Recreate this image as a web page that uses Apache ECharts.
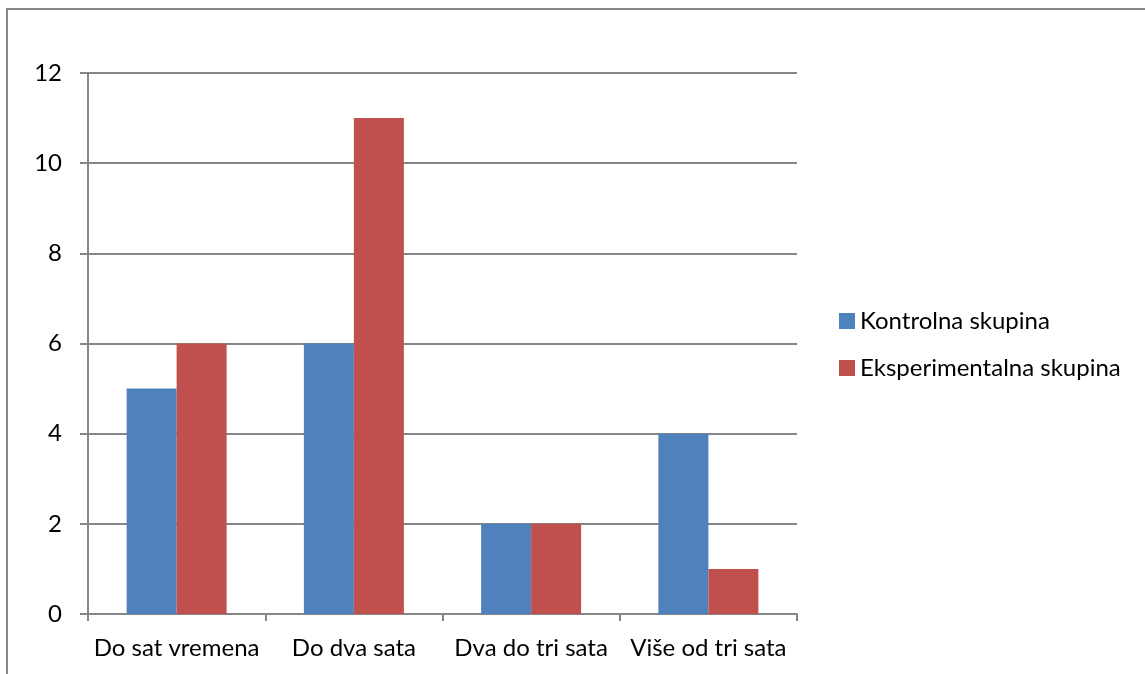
<!DOCTYPE html>
<html>
<head>
<meta charset="utf-8">
<script src="https://cdn.jsdelivr.net/npm/echarts@6/dist/echarts.min.js"></script>
<style>
  html, body { margin: 0; padding: 0; background: #fff; overflow: hidden; }
  #frame {
    position: absolute; left: 6px; top: 8px; width: 1200px; height: 700px;
    border-left: 2px solid #868686; border-top: 2px solid #868686;
  }
  #chart { position: absolute; left: 0; top: 0; width: 1145px; height: 674px; }
</style>
</head>
<body>
<div id="frame"></div>
<div id="chart"></div>
<script>
const categories = ['Do sat vremena', 'Do dva sata', 'Dva do tri sata', 'Više od tri sata']
const kontrolna = [5, 6, 2, 4]
const eksperimentalna = [6, 11, 2, 1]
const yTicks = { min: 0, max: 12, interval: 2 }

const chart = echarts.init(document.getElementById('chart'))
const font = 'Lato, Open Sans, sans-serif'
const gray = '#868686'

chart.setOption({
  animation: false,
  textStyle: { fontFamily: font },
  grid: { left: 88, right: 348, top: 73, bottom: 60 },
  legend: {
    orient: 'vertical',
    left: 839,
    top: 309,
    padding: 0,
    itemWidth: 16,
    itemHeight: 16,
    itemGap: 23,
    icon: 'rect',
    textStyle: { fontSize: 24, color: '#000', fontFamily: font, lineHeight: 24 },
    data: ['Kontrolna skupina', 'Eksperimentalna skupina']
  },
  xAxis: {
    type: 'category',
    data: categories,
    axisLine: { lineStyle: { color: gray, width: 2 } },
    axisTick: { show: true, interval: 0, length: 7, lineStyle: { color: gray, width: 2 } },
    axisLabel: { interval: 0, fontSize: 24, color: '#000', margin: 22, fontFamily: font }
  },
  yAxis: {
    type: 'value',
    min: yTicks.min,
    max: yTicks.max,
    interval: yTicks.interval,
    axisLine: { show: true, lineStyle: { color: gray, width: 2 } },
    axisTick: { show: true, length: 8, lineStyle: { color: gray, width: 2 } },
    axisLabel: { fontSize: 24, color: '#000', margin: 26, fontFamily: font },
    splitLine: { lineStyle: { color: gray, width: 2 } }
  },
  series: [
    {
      name: 'Kontrolna skupina',
      type: 'bar',
      data: kontrolna,
      barWidth: 50,
      barGap: '0%',
      itemStyle: { color: '#4F81BD' }
    },
    {
      name: 'Eksperimentalna skupina',
      type: 'bar',
      data: eksperimentalna,
      barWidth: 50,
      barGap: '0%',
      itemStyle: { color: '#C0504D' }
    }
  ]
})
</script>
</body>
</html>
